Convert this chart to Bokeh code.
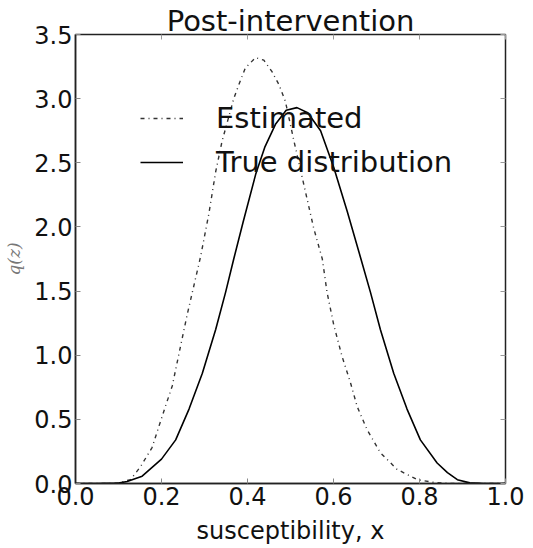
from bokeh.plotting import figure
from bokeh.models import (Range1d, FixedTicker, LinearAxis, Legend, LegendItem,
                          NumeralTickFormatter, ColumnDataSource)
from bokeh.embed import file_html
from bokeh.resources import INLINE

# ---- data ----
x_true = [0.0, 0.05, 0.10, 0.12, 0.155, 0.20, 0.233, 0.264, 0.295, 0.326, 0.349,
          0.368, 0.39, 0.419, 0.44, 0.465, 0.49, 0.515, 0.54, 0.57, 0.601, 0.632,
          0.663, 0.686, 0.709, 0.74, 0.771, 0.802, 0.841, 0.865, 0.888, 0.917,
          0.95, 1.0]
y_true = [0.0, 0.0, 0.003, 0.015, 0.057, 0.19, 0.34, 0.58, 0.86, 1.20, 1.49,
          1.75, 2.04, 2.41, 2.62, 2.80, 2.91, 2.93, 2.89, 2.75, 2.46, 2.12,
          1.76, 1.49, 1.20, 0.86, 0.58, 0.34, 0.16, 0.085, 0.03, 0.005,
          0.0, 0.0]

x_est = [0.0, 0.08, 0.10, 0.128, 0.151, 0.178, 0.209, 0.225, 0.248, 0.26, 0.271,
         0.291, 0.31, 0.326, 0.341, 0.368, 0.38, 0.395, 0.419, 0.438, 0.457,
         0.473, 0.488, 0.508, 0.531, 0.554, 0.574, 0.585, 0.601, 0.62, 0.64,
         0.655, 0.678, 0.709, 0.748, 0.795, 0.83, 0.87, 1.0]
y_est = [0.0, 0.0, 0.005, 0.03, 0.13, 0.28, 0.60, 0.76, 1.13, 1.32, 1.48,
         1.77, 2.10, 2.43, 2.67, 3.00, 3.11, 3.24, 3.32, 3.30, 3.21,
         3.11, 2.98, 2.67, 2.33, 1.99, 1.75, 1.49, 1.23, 0.99, 0.78,
         0.60, 0.42, 0.24, 0.11, 0.03, 0.01, 0.0, 0.0]

x_ticks = [0.0, 0.2, 0.4, 0.6, 0.8, 1.0]
y_ticks = [0.0, 0.5, 1.0, 1.5, 2.0, 2.5, 3.0, 3.5]

title_text = "Post-intervention"
x_label = "susceptibility, x"
y_label = "q(z)"
series_names = ["Estimated", "True distribution"]

FONT = "DejaVu Sans"

p = figure(width=533, height=548, output_backend="svg", toolbar_location=None,
           x_range=Range1d(0, 1), y_range=Range1d(0, 3.5),
           min_border_left=75, min_border_right=28, min_border_top=34,
           min_border_bottom=65, background_fill_color="white",
           border_fill_color="white")
p.grid.visible = False
p.outline_line_color = "#222222"
p.outline_line_width = 1.5

src_e = ColumnDataSource(dict(x=x_est, y=y_est))
src_t = ColumnDataSource(dict(x=x_true, y=y_true))
r_est = p.line("x", "y", source=src_e, line_color="#333333", line_width=1.4,
               line_dash="4 4 1 4")
r_true = p.line("x", "y", source=src_t, line_color="black", line_width=1.6)

for ax in (p.xaxis[0], p.yaxis[0]):
    ax.axis_line_color = "#222222"
    ax.axis_line_width = 1.5
    ax.major_tick_in = 5
    ax.major_tick_out = 0
    ax.minor_tick_line_color = None
    ax.major_tick_line_color = "#888888"
    ax.major_label_text_font = FONT
    ax.major_label_text_font_size = "24px"
    ax.major_label_text_color = "#111111"
    ax.formatter = NumeralTickFormatter(format="0.0")

p.xaxis[0].ticker = FixedTicker(ticks=x_ticks)
p.yaxis[0].ticker = FixedTicker(ticks=y_ticks)
p.xaxis[0].major_label_standoff = 3
p.yaxis[0].major_label_standoff = 3

p.xaxis[0].axis_label = x_label
p.xaxis[0].axis_label_text_font = FONT
p.xaxis[0].axis_label_text_font_size = "24px"
p.xaxis[0].axis_label_text_font_style = "normal"
p.xaxis[0].axis_label_text_color = "#111111"
p.xaxis[0].axis_label_standoff = 9

p.yaxis[0].axis_label = y_label
p.yaxis[0].axis_label_text_font = "DejaVu Serif"
p.yaxis[0].axis_label_text_font_size = "17px"
p.yaxis[0].axis_label_text_font_style = "italic"
p.yaxis[0].axis_label_text_color = "#777777"
p.yaxis[0].axis_label_standoff = 7

# mirrored ticks on top (carrying the title as its label) and right
top_ax = LinearAxis(ticker=FixedTicker(ticks=x_ticks), axis_line_color=None,
                    major_tick_in=5, major_tick_out=0,
                    major_tick_line_color="#999999",
                    minor_tick_line_color=None,
                    major_label_text_font_size="0px",
                    major_label_text_color=None,
                    major_label_standoff=0,
                    axis_label=title_text, axis_label_standoff=-3,
                    axis_label_text_font=FONT,
                    axis_label_text_font_size="29px",
                    axis_label_text_font_style="normal",
                    axis_label_text_color="#111111")
right_ax = LinearAxis(ticker=FixedTicker(ticks=y_ticks), axis_line_color=None,
                      major_tick_in=5, major_tick_out=0,
                      major_tick_line_color="#999999",
                      minor_tick_line_color=None,
                      major_label_text_font_size="0px",
                      major_label_text_color=None)
p.add_layout(top_ax, "above")
p.add_layout(right_ax, "right")

legend = Legend(items=[LegendItem(label=series_names[0], renderers=[r_est]),
                       LegendItem(label=series_names[1], renderers=[r_true])],
                location=(65, 299), padding=0, margin=0, spacing=0,
                glyph_width=43, glyph_height=44, label_height=44,
                label_standoff=33, label_text_font=FONT,
                label_text_font_size="29px", label_text_color="#111111",
                background_fill_alpha=0, border_line_alpha=0)
p.add_layout(legend)

open("out.html", "w").write(file_html(p, INLINE))
